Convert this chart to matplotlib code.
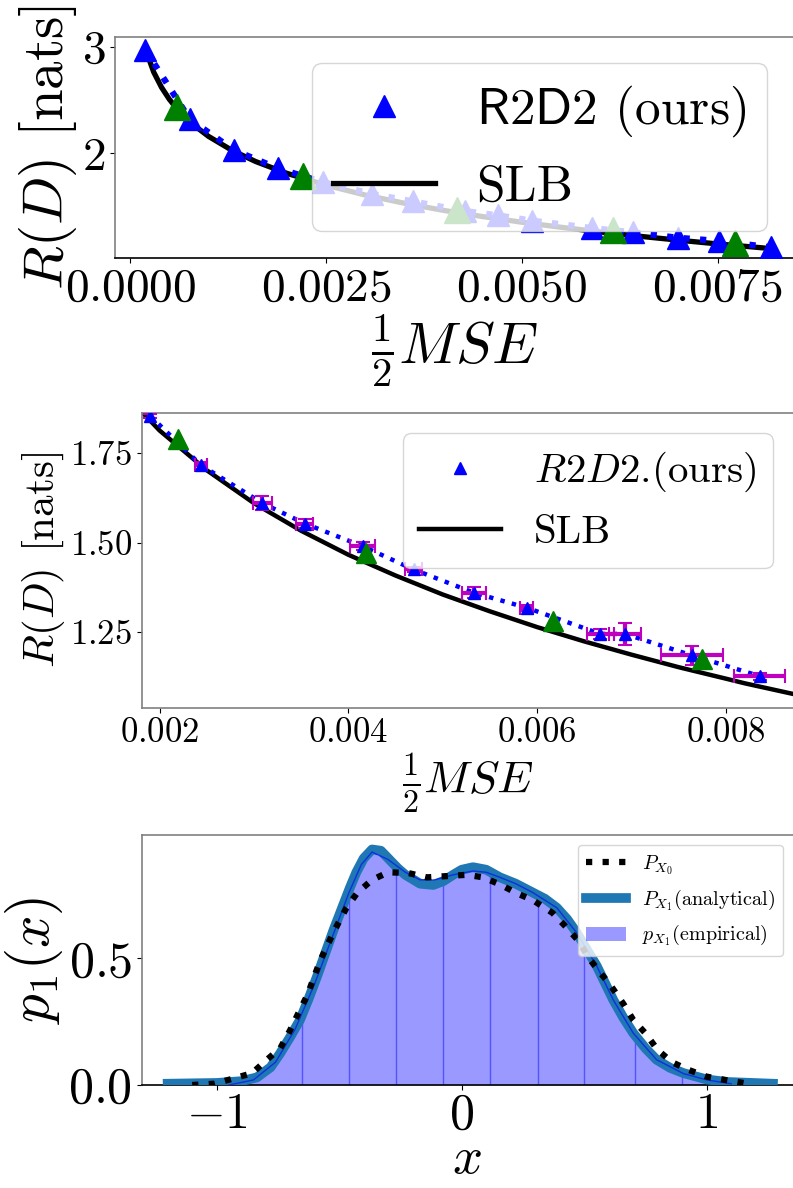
import matplotlib
matplotlib.use("Agg")
import matplotlib.pyplot as plt

plt.rcParams['font.family'] = 'cmr10'
plt.rcParams['mathtext.fontset'] = 'cm'
plt.rcParams['axes.formatter.use_mathtext'] = True
plt.rcParams['axes.unicode_minus'] = True

# ---- top panel: R(D) over the whole range
slb_x = [0.0002, 0.0003, 0.0004, 0.0005, 0.0006, 0.0008, 0.001, 0.0013, 0.0016, 0.002,
         0.0025, 0.003, 0.0035, 0.004, 0.0045, 0.005, 0.0055, 0.006, 0.0065, 0.007,
         0.0075, 0.008, 0.0082, 0.0087]
slb_y = [2.964, 2.761, 2.618, 2.506, 2.415, 2.271, 2.159, 2.028, 1.924, 1.813,
         1.702, 1.610, 1.533, 1.466, 1.408, 1.355, 1.308, 1.264, 1.224, 1.187,
         1.152, 1.120, 1.107, 1.078]

top_blue_x = [0.000194, 0.00076, 0.001325, 0.001886, 0.00246, 0.00309, 0.00361, 0.00427,
              0.00469, 0.00513, 0.0059, 0.00642, 0.00699, 0.00751, 0.00818]
top_blue_y = [2.97, 2.32, 2.03, 1.86, 1.73, 1.62, 1.55, 1.46, 1.42, 1.37, 1.30, 1.26,
              1.21, 1.18, 1.12]
top_green_x = [0.000603, 0.0022, 0.00417, 0.00616, 0.00772]
top_green_y = [2.43, 1.79, 1.47, 1.28, 1.16]

# ---- middle panel: zoom with error bars
mid_blue_x = [0.0019, 0.00244, 0.00309, 0.00354, 0.00415, 0.00469, 0.00533, 0.00589,
              0.00667, 0.00693, 0.00764, 0.00836]
mid_blue_y = [1.854, 1.716, 1.61, 1.553, 1.49, 1.425, 1.36, 1.318, 1.245, 1.245, 1.185, 1.127]
mid_xerr = [0.00002, 0.00006, 0.0001, 0.00009, 0.00013, 0.00009, 0.00013, 0.00007,
            0.00014, 0.00017, 0.00033, 0.00027]
mid_yerr = [0.005, 0.01, 0.02, 0.012, 0.012, 0.008, 0.015, 0.008, 0.015, 0.03, 0.027, 0.01]
mid_green_x = [0.00219, 0.00419, 0.00617, 0.00775]
mid_green_y = [1.79, 1.47, 1.28, 1.175]

# ---- bottom panel: densities
px0_x = [-1.1, -1.01, -0.93, -0.855, -0.795, -0.74, -0.70, -0.667, -0.63, -0.578, -0.52,
         -0.47, -0.427, -0.366, -0.3, -0.218, -0.142, -0.06, 0.02, 0.088, 0.16, 0.225,
         0.29, 0.37, 0.42, 0.476, 0.516, 0.56, 0.61, 0.66, 0.70, 0.749, 0.80, 0.858,
         0.925, 1.0, 1.075, 1.15]
px0_y = [0.0, 0.005, 0.026, 0.047, 0.10, 0.146, 0.217, 0.283, 0.355, 0.49, 0.61,
         0.70, 0.758, 0.81, 0.84, 0.837, 0.82, 0.825, 0.83, 0.82, 0.79, 0.757,
         0.73, 0.68, 0.63, 0.57, 0.505, 0.45, 0.39, 0.32, 0.257, 0.205, 0.138, 0.09,
         0.06, 0.033, 0.02, 0.008]

px1_x = [-1.2, -1.0, -0.9, -0.836, -0.78, -0.741, -0.70, -0.66, -0.625, -0.59, -0.524,
         -0.456, -0.43, -0.40, -0.366, -0.33, -0.293, -0.26, -0.23, -0.17, -0.116,
         -0.075, -0.035, 0.0, 0.046, 0.1, 0.156, 0.22, 0.29, 0.34, 0.388, 0.43, 0.47,
         0.551, 0.619, 0.66, 0.70, 0.75, 0.795, 0.85, 0.905, 1.0, 1.08, 1.27]
px1_y = [0.005, 0.008, 0.015, 0.03, 0.07, 0.125, 0.19, 0.257, 0.34, 0.43, 0.61,
         0.78, 0.84, 0.895, 0.93, 0.925, 0.888, 0.855, 0.83, 0.795, 0.79,
         0.805, 0.83, 0.85, 0.86, 0.85, 0.82, 0.795, 0.76, 0.735, 0.70, 0.655, 0.60,
         0.47, 0.335, 0.265, 0.205, 0.145, 0.10, 0.068, 0.047, 0.022, 0.012, 0.005]

emp_x = [-0.95, -0.85, -0.76, -0.68, -0.6, -0.53, -0.46, -0.41, -0.366, -0.3, -0.23,
         -0.17, -0.11, -0.035, 0.046, 0.1, 0.156, 0.22, 0.29, 0.388, 0.47, 0.551, 0.619,
         0.70, 0.795, 0.905, 1.0, 1.1]
emp_y = [0.0, 0.02, 0.09, 0.22, 0.40, 0.58, 0.76, 0.87, 0.92, 0.89, 0.84, 0.81, 0.81,
         0.83, 0.845, 0.84, 0.82, 0.795, 0.76, 0.70, 0.60, 0.47, 0.335, 0.205, 0.10,
         0.045, 0.02, 0.005]
bin_edges = [-0.652, -0.46, -0.267, -0.075, 0.116, 0.31, 0.50, 0.707, 0.90]
bin_heights = [0.28, 0.77, 0.87, 0.82, 0.835, 0.75, 0.55, 0.195, 0.047]


def style_spines(ax, bottom_black):
    for s in ['left', 'top']:
        ax.spines[s].set_color('#808080')
        ax.spines[s].set_linewidth(1.2)
    ax.spines['right'].set_visible(False)
    ax.spines['bottom'].set_color('black' if bottom_black else '#808080')
    ax.spines['bottom'].set_linewidth(1.2)


fig = plt.figure(figsize=(7.93, 11.88), dpi=100)

# top
ax1 = fig.add_axes([0.145, 0.7828, 0.855, 0.1861])
ax1.plot(slb_x[:-1], slb_y[:-1], color='black', lw=3.8, label='SLB', zorder=2)
ax1.plot(top_blue_x, top_blue_y, 'b:', lw=4.5, zorder=3)
ax1.plot(top_blue_x, top_blue_y, 'b^', ms=16, ls='none',
         label=r'$\mathsf{R2D2}$ (ours)', zorder=4)
ax1.plot(top_green_x, top_green_y, '^', color='green', ms=19, ls='none', zorder=5)
ax1.set_xlim(-0.000194, 0.00846)
ax1.set_ylim(1.02, 3.09)
ax1.set_xticks([0.0, 0.0025, 0.005, 0.0075])
ax1.set_yticks([2, 3])
ax1.tick_params(labelsize=34)
ax1.set_xlabel(r'$\frac{1}{2}MSE$', fontsize=42, labelpad=2)
ax1.set_ylabel(r'$R(D)$ [nats]', fontsize=41, labelpad=2)
h, l = ax1.get_legend_handles_labels()
ax1.legend([h[1], h[0]], [l[1], l[0]], fontsize=37, loc='upper right')
style_spines(ax1, True)

# middle
ax2 = fig.add_axes([0.1786, 0.404, 0.8214, 0.2484])
ax2.plot(slb_x, slb_y, color='black', lw=3.2, label='SLB', zorder=2)
ax2.plot(mid_blue_x, mid_blue_y, 'b:', lw=3.2, zorder=3)
ax2.errorbar(mid_blue_x, mid_blue_y, xerr=mid_xerr, yerr=mid_yerr, fmt='none',
             ecolor='m', elinewidth=3, capsize=5, capthick=1.5, zorder=4)
ax2.plot(mid_blue_x, mid_blue_y, 'b^', ms=9, ls='none',
         label=r'$R2D2$.(ours)', zorder=5)
ax2.plot(mid_green_x, mid_green_y, '^', color='green', ms=14, ls='none', zorder=6)
ax2.set_xlim(0.00181, 0.00871)
ax2.set_ylim(1.038, 1.862)
ax2.set_xticks([0.002, 0.004, 0.006, 0.008])
ax2.set_yticks([1.25, 1.50, 1.75])
ax2.tick_params(labelsize=25)
ax2.set_xlabel(r'$\frac{1}{2}MSE$', fontsize=33, labelpad=2)
ax2.set_ylabel(r'$R(D)$ [nats]', fontsize=31, labelpad=2)
h, l = ax2.get_legend_handles_labels()
ax2.legend([h[1], h[0]], [l[1], l[0]], fontsize=29.5, loc='upper right')
style_spines(ax2, False)

# bottom
ax3 = fig.add_axes([0.1787, 0.0867, 0.8213, 0.2104])
ax3.plot(px0_x, px0_y, color='black', ls=':', lw=4.5, label=r'$P_{X_0}$', zorder=4)
ax3.plot(px1_x, px1_y, color='#1f77b4', lw=7, label=r'$P_{X_1}$(analytical)', zorder=3)
ax3.fill_between(emp_x, emp_y, color='blue', alpha=0.4, lw=0,
                 label=r'$p_{X_1}$(empirical)', zorder=2)
ax3.plot(emp_x, emp_y, color='blue', alpha=0.6, lw=1, zorder=3.5)
ax3.vlines(bin_edges, 0, bin_heights, color='blue', alpha=0.45, lw=1, zorder=2.5)
ax3.set_xlim(-1.306, 1.352)
ax3.set_ylim(0, 0.987)
ax3.set_xticks([-1, 0, 1])
ax3.set_yticks([0.0, 0.5])
ax3.tick_params(labelsize=36)
ax3.tick_params(axis='x', pad=2)
ax3.set_xlabel(r'$x$', fontsize=38, labelpad=-2)
ax3.set_ylabel(r'$p_1(x)$', fontsize=41, labelpad=2)
ax3.legend(fontsize=14.5, loc='upper right')
style_spines(ax3, True)

fig.savefig('out.png', dpi=100)
